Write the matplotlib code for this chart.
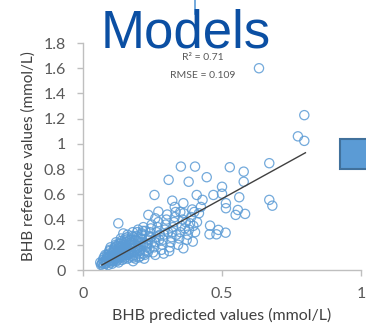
import matplotlib
matplotlib.use("Agg")
import matplotlib.pyplot as plt
from matplotlib.lines import Line2D
from matplotlib.patches import Rectangle

# Predicted vs reference BHB concentrations (mmol/L)
pred_values = [
    0.065, 0.070, 0.072, 0.068, 0.075, 0.078, 0.080, 0.073, 0.062,
    0.082, 0.085, 0.088, 0.090, 0.092, 0.095, 0.084, 0.097, 0.093, 0.086, 0.099, 0.091, 0.096,
    0.101, 0.104, 0.106, 0.108, 0.110, 0.112, 0.115, 0.118, 0.103, 0.107, 0.113, 0.117, 0.119, 0.105, 0.114,
    0.121, 0.123, 0.125, 0.127, 0.129, 0.131, 0.133, 0.135, 0.137, 0.122, 0.126, 0.132, 0.138, 0.124, 0.136,
    0.141, 0.143, 0.145, 0.147, 0.149, 0.151, 0.153, 0.155, 0.157, 0.159, 0.142, 0.146, 0.150, 0.154, 0.158,
    0.161, 0.163, 0.165, 0.167, 0.169, 0.171, 0.173, 0.175, 0.177, 0.179, 0.164, 0.172, 0.176,
    0.181, 0.183, 0.185, 0.187, 0.189, 0.191, 0.193, 0.195, 0.184, 0.192, 0.197, 0.199,
    0.201, 0.203, 0.205, 0.207, 0.209, 0.211, 0.213, 0.215, 0.217, 0.204, 0.216,
    0.222, 0.226, 0.229, 0.232, 0.235, 0.238, 0.241, 0.244, 0.247, 0.228, 0.243,
    0.252, 0.256, 0.259, 0.262, 0.265, 0.268, 0.271, 0.274, 0.277, 0.260,
    0.282, 0.285, 0.288, 0.291, 0.294, 0.297, 0.300, 0.303, 0.306,
    0.312, 0.315, 0.318, 0.321, 0.324, 0.327, 0.330, 0.333, 0.336,
    0.342, 0.346, 0.350, 0.354, 0.358, 0.362, 0.366, 0.370,
    0.373, 0.377, 0.381, 0.385, 0.389, 0.393, 0.397,
    0.403, 0.410, 0.417, 0.424,
    0.260, 0.290, 0.310, 0.220, 0.180,
    0.075, 0.083, 0.087, 0.094, 0.098, 0.102, 0.109, 0.111, 0.116, 0.120,
    0.124, 0.128, 0.130, 0.134, 0.139, 0.144, 0.148, 0.152, 0.156, 0.160,
    0.166, 0.170, 0.174, 0.178, 0.182, 0.188, 0.194, 0.198, 0.206, 0.212,
    0.218, 0.224, 0.233, 0.239, 0.248,
    0.633, 0.796, 0.773, 0.796, 0.670, 0.352, 0.403, 0.528, 0.578, 0.445,
    0.308, 0.380, 0.578, 0.500, 0.257, 0.409, 0.469, 0.500, 0.562, 0.670,
    0.681, 0.514, 0.514, 0.557, 0.549, 0.583, 0.430, 0.321, 0.361, 0.457,
    0.487, 0.455, 0.480, 0.513, 0.127, 0.145, 0.235, 0.271, 0.330, 0.350,
    0.400, 0.395, 0.361,
]
ref_values = [
    0.04, 0.06, 0.08, 0.05, 0.10, 0.07, 0.12, 0.03, 0.06,
    0.05, 0.07, 0.09, 0.11, 0.13, 0.15, 0.06, 0.08, 0.10, 0.12, 0.18, 0.04, 0.16,
    0.06, 0.08, 0.10, 0.12, 0.14, 0.16, 0.18, 0.20, 0.07, 0.09, 0.11, 0.13, 0.22, 0.05, 0.15,
    0.07, 0.09, 0.11, 0.13, 0.15, 0.17, 0.19, 0.21, 0.23, 0.10, 0.12, 0.14, 0.16, 0.08, 0.25,
    0.08, 0.10, 0.12, 0.14, 0.16, 0.18, 0.20, 0.22, 0.24, 0.26, 0.11, 0.13, 0.15, 0.17, 0.19,
    0.09, 0.12, 0.14, 0.16, 0.18, 0.20, 0.22, 0.24, 0.27, 0.30, 0.13, 0.17, 0.21,
    0.10, 0.12, 0.15, 0.18, 0.21, 0.24, 0.27, 0.30, 0.14, 0.19, 0.23, 0.26,
    0.10, 0.13, 0.16, 0.19, 0.22, 0.25, 0.28, 0.31, 0.34, 0.15, 0.20,
    0.12, 0.15, 0.18, 0.21, 0.24, 0.27, 0.30, 0.33, 0.36, 0.20, 0.26,
    0.14, 0.18, 0.22, 0.26, 0.30, 0.34, 0.38, 0.24, 0.28, 0.41,
    0.16, 0.20, 0.24, 0.28, 0.32, 0.36, 0.40, 0.44, 0.30,
    0.18, 0.22, 0.26, 0.30, 0.34, 0.38, 0.42, 0.46, 0.28,
    0.20, 0.25, 0.30, 0.35, 0.40, 0.45, 0.33, 0.38,
    0.24, 0.28, 0.32, 0.37, 0.42, 0.48, 0.35,
    0.30, 0.38, 0.45, 0.50,
    0.12, 0.13, 0.15, 0.09, 0.07,
    0.05, 0.08, 0.10, 0.07, 0.11, 0.13, 0.07, 0.17, 0.09, 0.19,
    0.14, 0.06, 0.21, 0.10, 0.18, 0.21, 0.09, 0.25, 0.12, 0.28,
    0.10, 0.24, 0.15, 0.11, 0.26, 0.09, 0.17, 0.32, 0.11, 0.29,
    0.13, 0.31, 0.14, 0.17, 0.22,
    1.60, 1.228, 1.06, 1.024, 0.847, 0.82, 0.82, 0.815, 0.78, 0.736,
    0.715, 0.70, 0.70, 0.66, 0.595, 0.595, 0.595, 0.605, 0.577, 0.556,
    0.51, 0.53, 0.49, 0.476, 0.437, 0.445, 0.556, 0.55, 0.53, 0.352,
    0.318, 0.283, 0.283, 0.296, 0.37, 0.29, 0.437, 0.463, 0.50, 0.46,
    0.46, 0.225, 0.172,
]

# Fitted regression line
fit_x = [0.068, 0.80]
fit_slope = 1.216
fit_intercept = -0.043

r2_text = "R² = 0.71"
rmse_text = "RMSE = 0.109"

y_ticks = [0, 0.2, 0.4, 0.6, 0.8, 1, 1.2, 1.4, 1.6, 1.8]
y_tick_labels = ["0", "0.2", "0.4", "0.6", "0.8", "1", "1.2", "1.4", "1.6", "1.8"]
x_ticks = [0, 0.5, 1]
x_tick_labels = ["0", "0.5", "1"]

plt.rcParams["font.family"] = ["Lato", "DejaVu Sans"]

fig = plt.figure(figsize=(3.66, 3.35), dpi=100)
ax = fig.add_axes([0.2268, 0.194, 0.7596, 0.6776])

ax.scatter(pred_values, ref_values, s=44, facecolors="none",
           edgecolors="#5b9bd5", linewidths=0.9, alpha=0.85, zorder=2)

fit_y = [fit_slope * x + fit_intercept for x in fit_x]
ax.plot(fit_x, fit_y, color="#404040", lw=1.0, zorder=3)

ax.set_xlim(0, 1)
ax.set_ylim(0, 1.8)
ax.set_xticks(x_ticks)
ax.set_xticklabels(x_tick_labels)
ax.set_yticks(y_ticks)
ax.set_yticklabels(y_tick_labels)

for side in ("top", "right"):
    ax.spines[side].set_visible(False)
for side in ("left", "bottom"):
    ax.spines[side].set_color("#bfbfbf")
    ax.spines[side].set_linewidth(1.0)
ax.tick_params(axis="both", colors="#bfbfbf", labelcolor="#595959",
               labelsize=11.5, length=4, width=1.0)
ax.tick_params(axis="x", pad=8)
ax.tick_params(axis="y", pad=8)

ax.set_xlabel("BHB predicted values (mmol/L)", fontsize=11.5, color="#404040", labelpad=5)
ax.set_ylabel("BHB reference values (mmol/L)", fontsize=11, color="#404040", labelpad=6)

ax.text(0.43, 1.685, r2_text, ha="center", va="center", fontsize=7.5, color="#595959")
ax.text(0.43, 1.545, rmse_text, ha="center", va="center", fontsize=7.5, color="#595959")

# Slide heading and decorations
fig.text(186 / 366, 1 - 47 / 335, "Models", ha="center", va="baseline",
         fontsize=38, color="#0b4fa3", family="Liberation Sans")
fig.add_artist(Line2D([195 / 366, 195 / 366], [1.0, 1 - 14 / 335],
                      transform=fig.transFigure, color="#5b9bd5", lw=1.2))
fig.add_artist(Rectangle((340 / 366, 1 - 169 / 335), 30 / 366, 30 / 335,
                         transform=fig.transFigure, facecolor="#5b9bd5",
                         edgecolor="#41719c", lw=1.5))

fig.savefig("out.png", dpi=100)
